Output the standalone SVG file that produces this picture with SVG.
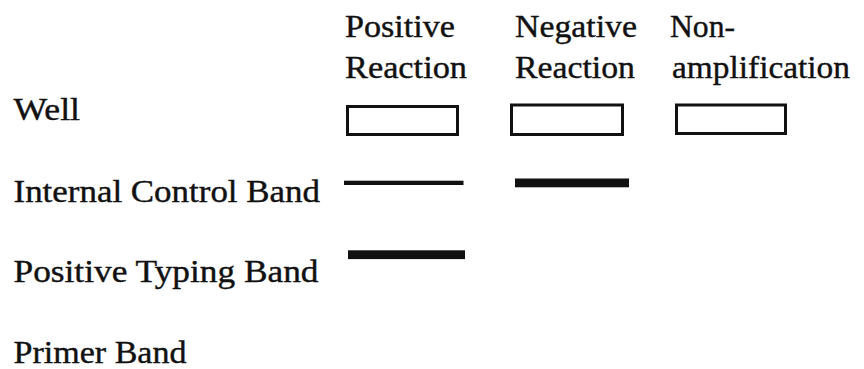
<svg xmlns="http://www.w3.org/2000/svg" width="864" height="369" viewBox="0 0 864 369">
<style>
text{font-family:"Liberation Serif","Times New Roman",serif;font-size:32px;fill:#111;stroke:#111;stroke-width:0.4}
.well{fill:#fff;stroke:#111;stroke-width:3}
.band{fill:#111}
</style>
<rect width="864" height="369" fill="#fff"/>
<g id="headers">
<g id="col-positive">
<text x="345" y="36.7" textLength="110" lengthAdjust="spacingAndGlyphs">Positive</text>
<text x="345" y="78.3" textLength="122" lengthAdjust="spacingAndGlyphs">Reaction</text>
</g>
<g id="col-negative">
<text x="515" y="36.7" textLength="122" lengthAdjust="spacingAndGlyphs">Negative</text>
<text x="515" y="78.3" textLength="120" lengthAdjust="spacingAndGlyphs">Reaction</text>
</g>
<g id="col-nonamp">
<text x="670" y="36.7" textLength="65" lengthAdjust="spacingAndGlyphs">Non-</text>
<text x="672" y="78.3" textLength="178" lengthAdjust="spacingAndGlyphs">amplification</text>
</g>
</g>
<g id="rows">
<text id="row-well" x="13.5" y="120" textLength="66.5" lengthAdjust="spacingAndGlyphs">Well</text>
<text id="row-ic" x="13.5" y="201.7" textLength="306.5" lengthAdjust="spacingAndGlyphs">Internal Control Band</text>
<text id="row-ptb" x="13.5" y="281.7" textLength="305" lengthAdjust="spacingAndGlyphs">Positive Typing Band</text>
<text id="row-primer" x="13.5" y="363.3" textLength="173" lengthAdjust="spacingAndGlyphs">Primer Band</text>
</g>
<g id="wells">
<rect id="well-positive" class="well" x="347.5" y="106.5" width="110" height="28"/>
<rect id="well-negative" class="well" x="511.5" y="105" width="111" height="29.5"/>
<rect id="well-nonamp" class="well" x="676.5" y="105" width="109" height="28.5"/>
</g>
<g id="bands">
<rect id="band-pos-ic" class="band" x="344" y="180.7" width="119.5" height="4.3"/>
<rect id="band-neg-ic" class="band" x="515" y="178.5" width="114" height="8.8"/>
<rect id="band-pos-typing" class="band" x="348" y="250.3" width="117" height="8.8"/>
</g>
</svg>
